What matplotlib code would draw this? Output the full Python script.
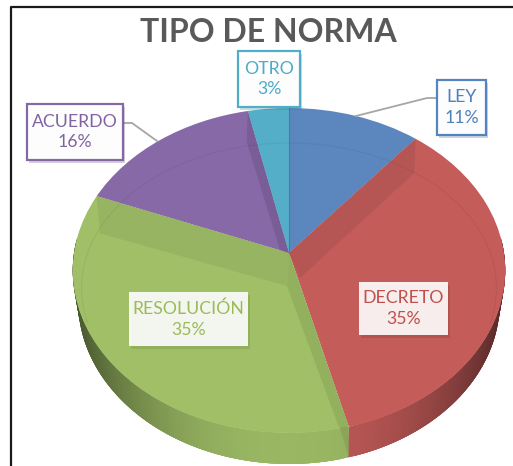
import numpy as np
import matplotlib
matplotlib.use("Agg")
import matplotlib.pyplot as plt
from matplotlib import transforms as mtrans
from matplotlib.patches import Rectangle, Arc

title = "TIPO DE NORMA"
categories = ["LEY", "DECRETO", "RESOLUCIÓN", "ACUERDO", "OTRO"]
values = [11, 35, 35, 15.6, 3.4]
colors = ["#5b87be", "#c45c5a", "#a0bf67", "#8769a8", "#54aec8"]
text_colors = ["#4f81bd", "#c0504d", "#9bbb59", "#8064a2", "#4bacc6"]
# label box: left, top, right, bottom (pixels); edge flag
boxes = [(437, 80, 486, 135, True), (359, 282, 448, 335, False), (129, 292, 248, 346, False),
         (27, 104, 123, 160, True), (238, 51, 300, 107, True)]
leaders = {0: [(436, 98), (427, 98), (356, 116)], 3: [(124, 123), (132, 123), (157, 141)]}

CX, CY, A, B, K, DEPTH, SHRINK = 289, 253, 215, 160.6, 0.1077, 31, 0.975


class Tilt(mtrans.Transform):
    input_dims = output_dims = 2
    is_separable = False
    has_inverse = False

    def transform_non_affine(self, xy):
        xy = np.asarray(xy, float)
        w = 1 + K * xy[:, 1]
        return np.column_stack((CX + A * xy[:, 0] / w, CY - B * xy[:, 1] / w))


def rim(frac):
    th = 2 * np.pi * np.asarray(frac, float)
    uv = np.column_stack((np.sin(th), np.cos(th)))
    return Tilt().transform_non_affine(uv)


def lower(p):
    return np.column_stack((CX + (p[:, 0] - CX) * SHRINK, p[:, 1] + DEPTH))


def shade(c, f):
    return tuple(min(1, x * f) for x in matplotlib.colors.to_rgb(c))


plt.rcParams["font.family"] = ["Lato", "DejaVu Sans"]
fig = plt.figure(figsize=(5.13, 4.66), dpi=100)
ax = fig.add_axes([0, 0, 1, 1])
wedges, _ = ax.pie(values, colors=colors, startangle=90, counterclock=False, radius=1,
                   wedgeprops=dict(linewidth=0))
ax.set_aspect("auto")
ax.set_xlim(0, 513)
ax.set_ylim(466, 0)
ax.axis("off")
tilt = Tilt() + ax.transData
for w in wedges:
    w.set_transform(tilt)
    w.set_zorder(3)
    w.set_clip_on(False)

edges = np.cumsum([0] + values) / sum(values)

# side wall: overlapping strips so that no seams show
for i in range(len(values)):
    fr = np.arange(edges[i], edges[i + 1] + 1e-9, 0.002)
    if fr[-1] < edges[i + 1]:
        fr = np.append(fr, edges[i + 1])
    p = rim(fr)
    lo = lower(p)
    order = range(len(fr) - 1) if i == 2 else range(len(fr) - 2, -1, -1)
    for j in order:
        if p[j, 1] < CY - 10 and p[j + 1, 1] < CY - 10:
            continue
        t = abs((p[j, 0] + p[j + 1, 0]) / 2 - CX) / A
        f = 0.96 - 0.5 * t ** 2.2
        k = min(j + 4, len(fr) - 1) if i == 2 else j + 1
        m = j if i == 2 else max(j - 3, 0)
        q = np.array([p[m], p[k], lo[k], lo[m]])
        ax.fill(q[:, 0], q[:, 1], fc=shade(colors[i], f), ec="none", zorder=2)

# darker bevel facets, hung on the slice boundaries
apex = np.array([CX, CY])


def facet(pts, col, f=0.93):
    q = np.array(pts)
    ax.fill(q[:, 0], q[:, 1], fc=shade(col, f), ec="none", zorder=4)


r1, r2, r3, r4 = rim(edges[1:5])
facet([apex, r1, r1 + (-1, 34), apex + (11, 25)], colors[1])
facet([apex, r3, r3 + (3, 37), apex + (-2, 33)], colors[2], 0.94)
facet([apex, apex + (-2, 33), r2 + (-10, 0), r2], colors[2], 0.92)
facet([apex, r4, r4 + (-1, 31), apex + (-9, -3)], colors[3], 0.89)
# dark sliver where the green wall meets the red one
facet([r2, r2 + (0, DEPTH), r2 + (-9, 0)], colors[2], 0.86)

# faint inner ring of the bevel
ax.add_patch(Arc((CX, 288), 415, 290, theta1=170, theta2=370, color="#000000", alpha=0.05,
                 lw=0.8, zorder=5))
# seam between first and last slice
r0 = rim([0.0])[0]
ax.plot([CX, r0[0]], [CY, r0[1]], color="#4a78ae", lw=0.8, zorder=5)

# leader lines
for pts in leaders.values():
    q = np.array(pts)
    ax.plot(q[:, 0], q[:, 1], color="#a6a6a6", lw=1.3, zorder=6)

# labels
for name, val, tc, (l, t, r, b, edge) in zip(categories, values, text_colors, boxes):
    ax.add_patch(Rectangle((l + 2, t + 3), r - l, b - t, fc=shade(tc, 0.7), alpha=0.25, ec="none", zorder=7))
    ax.add_patch(Rectangle((l, t), r - l, b - t, fc="white", alpha=0.97 if edge else 0.9,
                           ec=tc if edge else "none", lw=1.6, zorder=8))
    ax.text((l + r) / 2, (t + b) / 2, f"{name}\n{val:.0f}%", ha="center", va="center", color=tc,
            fontsize=12.7, linespacing=1.38, zorder=9)

ax.text(268, 33, title, ha="center", va="center", fontsize=23, fontweight="bold", color="#595959", zorder=9)

# frame of the screenshot (runs off the right and bottom)
ax.plot([513, 11, 11], [7, 7, 466], color="#1a1a1a", lw=1.6, zorder=10)

fig.savefig("out.png", dpi=100)
